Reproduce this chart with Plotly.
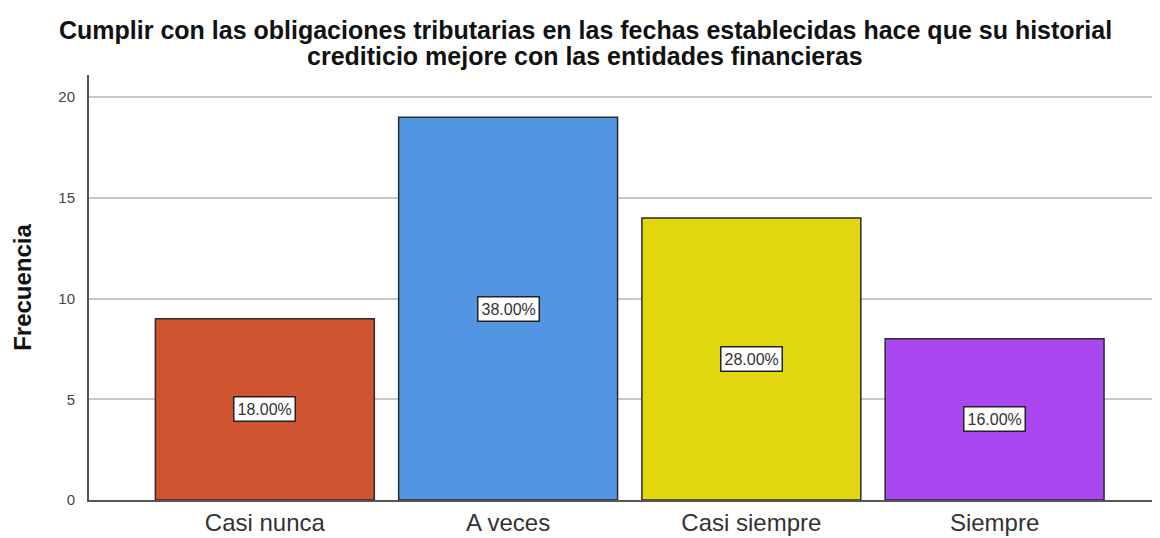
import plotly.graph_objects as go

categories = ["Casi nunca", "A veces", "Casi siempre", "Siempre"]
frequencies = [9, 19, 14, 8]
percent_labels = ["18.00%", "38.00%", "28.00%", "16.00%"]
bar_colors = ["#D05430", "#5295E3", "#E2D70F", "#A947F0"]
y_ticks = [0, 5, 10, 15, 20]
title_lines = [
    "Cumplir con las obligaciones tributarias en las fechas establecidas hace que su historial",
    "crediticio mejore con las entidades financieras",
]

FONT = "Liberation Sans, Arial, sans-serif"

# page body has an 8px margin; size the figure so it fills the 1160x538 window
W, H = 1152, 530
ML, MT, MB, MR = 81, 67, 38, 0
plot_top, plot_bottom = MT, H - MB
plot_left, plot_right = ML, W - MR

fig = go.Figure()
fig.add_trace(go.Bar(
    x=categories, y=frequencies,
    marker=dict(color=bar_colors, line=dict(color="#2b2b2b", width=1.5)),
    width=0.9, hoverinfo="skip",
))

for c, f, p in zip(categories, frequencies, percent_labels):
    fig.add_annotation(
        x=c, y=f / 2, text=p, showarrow=False,
        font=dict(family=FONT, size=16, color="#333333"),
        bgcolor="white", bordercolor="#222222", borderwidth=1.5, borderpad=3,
    )

title_center_px = 577
title_y_px = [22, 48]
for line, py in zip(title_lines, title_y_px):
    fig.add_annotation(
        x=(title_center_px - plot_left) / (plot_right - plot_left), xref="paper", xanchor="center",
        y=(plot_bottom - py) / (plot_bottom - plot_top), yref="paper", yanchor="middle",
        text="<b>" + line + "</b>", showarrow=False,
        font=dict(family=FONT, size=25, color="#111111"),
    )

fig.update_layout(
    width=W, height=H,
    paper_bgcolor="white", plot_bgcolor="white",
    margin=dict(l=ML, r=MR, t=MT, b=MB, autoexpand=False),
    showlegend=False,
    xaxis=dict(
        range=[-0.723, 3.68], showgrid=False, showline=True, linecolor="#555555", linewidth=2,
        ticks="", tickfont=dict(family=FONT, size=24, color="#333333"),
        fixedrange=True, automargin=False,
    ),
    yaxis=dict(
        range=[0, 21.1], tickvals=y_ticks, showgrid=True, gridcolor="#c8c8c8", gridwidth=1.5,
        showline=True, linecolor="#555555", linewidth=2, zeroline=False, ticks="",
        tickfont=dict(family=FONT, size=15, color="#444444"),
        ticklabelstandoff=9, automargin=False,
        title=dict(text="<b>Frecuencia</b>", standoff=20,
                   font=dict(family=FONT, size=24, color="#111111")),
    ),
)

fig.write_html("out.html")
